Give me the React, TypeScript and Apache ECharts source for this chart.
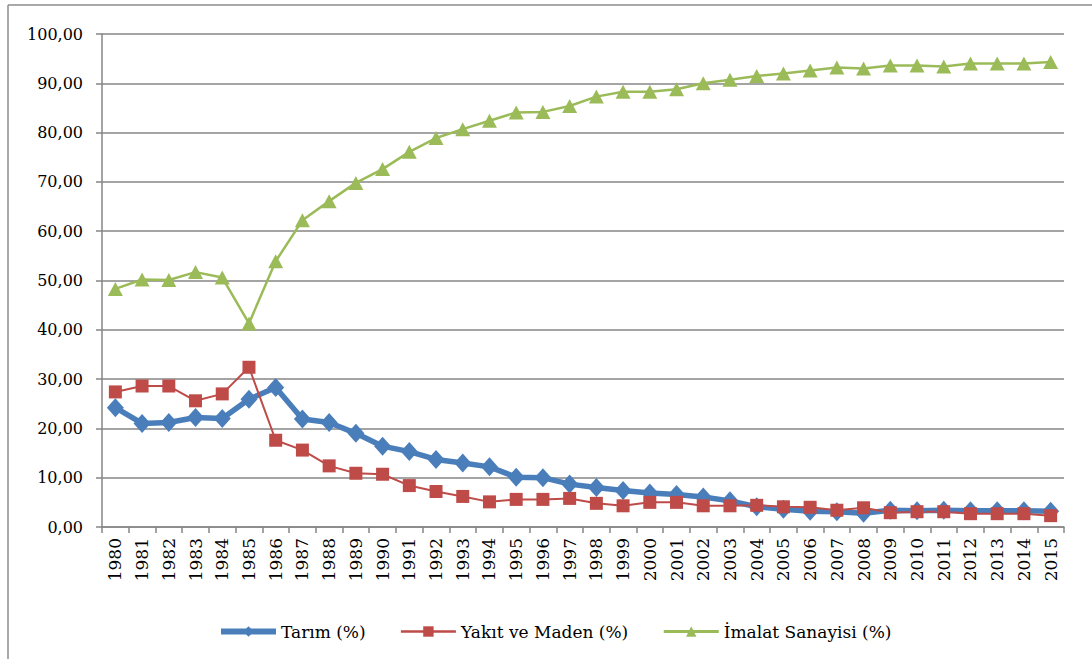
import React, { useEffect, useRef } from "react";
import * as echarts from "echarts";

const years = [
  "1980","1981","1982","1983","1984","1985","1986","1987","1988","1989",
  "1990","1991","1992","1993","1994","1995","1996","1997","1998","1999",
  "2000","2001","2002","2003","2004","2005","2006","2007","2008","2009",
  "2010","2011","2012","2013","2014","2015",
];

const tarim = [
  24.2, 21.0, 21.2, 22.2, 22.0, 25.9, 28.3, 21.9, 21.2, 19.0,
  16.4, 15.3, 13.7, 13.0, 12.2, 10.1, 10.0, 8.7, 8.0, 7.4,
  6.9, 6.6, 6.1, 5.3, 4.1, 3.6, 3.2, 3.1, 2.8, 3.4,
  3.3, 3.4, 3.3, 3.3, 3.3, 3.2,
];

const yakit = [
  27.4, 28.6, 28.6, 25.6, 27.0, 32.4, 17.6, 15.6, 12.4, 10.9,
  10.7, 8.4, 7.2, 6.2, 5.1, 5.6, 5.6, 5.8, 4.8, 4.3,
  5.0, 5.0, 4.3, 4.3, 4.4, 4.1, 4.0, 3.4, 3.9, 2.9,
  3.1, 3.1, 2.7, 2.7, 2.7, 2.3,
];

const imalat = [
  48.3, 50.2, 50.1, 51.7, 50.6, 41.3, 53.9, 62.2, 66.1, 69.8,
  72.6, 76.1, 78.9, 80.7, 82.4, 84.1, 84.2, 85.4, 87.3, 88.3,
  88.3, 88.8, 90.0, 90.7, 91.5, 92.0, 92.6, 93.2, 93.0, 93.6,
  93.6, 93.4, 94.0, 94.0, 94.0, 94.3,
];

const seriesNames = ["Tarım (%)", "Yakıt ve Maden (%)", "İmalat Sanayisi (%)"];
const colors = ["#4a7ebb", "#be4b48", "#9bbb59"];
const lineWidths = [5.5, 2, 2.5];

const FONT = "DejaVu Serif";

export default function App() {
  const ref = useRef<HTMLDivElement>(null);

  useEffect(() => {
    if (!ref.current) return;
    const chart = echarts.init(ref.current, undefined, { renderer: "svg" });
    chart.setOption({
      animation: false,
      backgroundColor: "#ffffff",
      textStyle: { fontFamily: FONT, color: "#000" },
      grid: { left: 102, right: 28, top: 34, bottom: 132, containLabel: false },
      graphic: [
        {
          type: "line",
          shape: { x1: 8, y1: 5, x2: 8, y2: 659 },
          style: { stroke: "#8c8c8c", lineWidth: 1.5 },
        },
        {
          type: "line",
          shape: { x1: 8, y1: 5, x2: 1092, y2: 5 },
          style: { stroke: "#8c8c8c", lineWidth: 1.5 },
        },
      ],
      legend: {
        left: 213,
        top: 618,
        itemWidth: 55,
        itemHeight: 13,
        itemGap: 34,
        textStyle: { fontFamily: FONT, fontSize: 17, color: "#000" },
        data: seriesNames.map((n, i) => ({
          name: n,
          lineStyle: { width: lineWidths[i] + (i === 0 ? 0.5 : 0.5), color: colors[i] },
        })),
      },
      xAxis: {
        type: "category",
        data: years,
        boundaryGap: true,
        axisLine: { lineStyle: { color: "#868686", width: 1.5 } },
        axisTick: { show: true, length: 6, lineStyle: { color: "#868686", width: 1.5 } },
        axisLabel: {
          rotate: 90,
          interval: 0,
          margin: 11,
          fontFamily: FONT,
          fontSize: 17,
          color: "#000",
        },
        splitLine: { show: false },
      },
      yAxis: {
        type: "value",
        min: 0,
        max: 100,
        interval: 10,
        axisLine: { show: true, lineStyle: { color: "#868686", width: 1.5 } },
        axisTick: { show: true, length: 6, lineStyle: { color: "#868686", width: 1.5 } },
        axisLabel: {
          margin: 19,
          fontFamily: FONT,
          fontSize: 16,
          color: "#000",
          formatter: (v: number) => v.toFixed(2).replace(".", ","),
        },
        splitLine: { show: true, lineStyle: { color: "#868686", width: 1.5 } },
      },
      series: [
        {
          name: seriesNames[0],
          type: "line",
          data: tarim,
          symbol: "diamond",
          symbolSize: [17, 19],
          lineStyle: { color: colors[0], width: lineWidths[0] },
          itemStyle: { color: colors[0] },
        },
        {
          name: seriesNames[1],
          type: "line",
          data: yakit,
          symbol: "rect",
          symbolSize: 13,
          lineStyle: { color: colors[1], width: lineWidths[1] },
          itemStyle: { color: colors[1] },
        },
        {
          name: seriesNames[2],
          type: "line",
          data: imalat,
          symbol: "triangle",
          symbolSize: [15, 14],
          lineStyle: { color: colors[2], width: lineWidths[2] },
          itemStyle: { color: colors[2] },
        },
      ],
    });
    return () => chart.dispose();
  }, []);

  return (
    <div
      ref={ref}
      style={{ position: "fixed", left: 0, top: 0, width: 1092, height: 659, background: "#fff" }}
    />
  );
}
